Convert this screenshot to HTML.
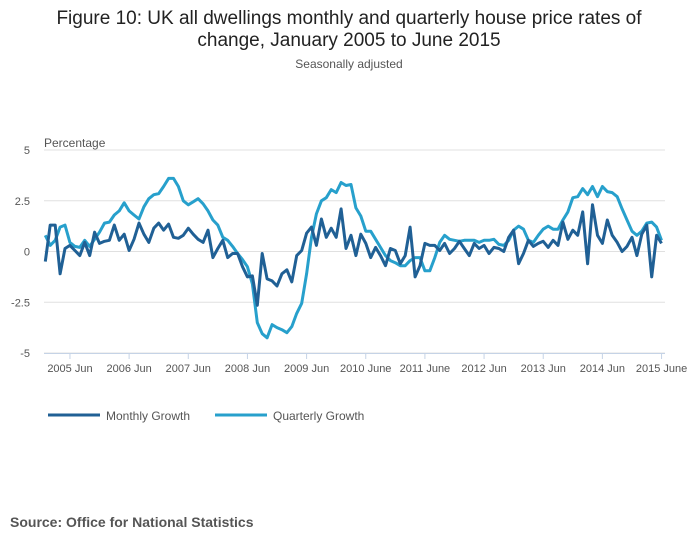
<!DOCTYPE html>
<html><head><meta charset="utf-8"><style>
body{margin:0;background:#fff;font-family:"Liberation Sans",sans-serif;}
#wrap{position:relative;width:700px;height:549px;overflow:hidden;}
</style></head><body>
<div id="wrap">
<svg id="svg" width="700" height="549" xmlns="http://www.w3.org/2000/svg">
<text x="349" y="24" text-anchor="middle" font-size="19" fill="#222">Figure 10: UK all dwellings monthly and quarterly house price rates of</text>
<text x="349" y="46" text-anchor="middle" font-size="19" fill="#222">change, January 2005 to June 2015</text>
<text x="349" y="68" text-anchor="middle" font-size="12" fill="#555">Seasonally adjusted</text>
<text x="44" y="147" font-size="12" fill="#555">Percentage</text>
<g id="grid"></g><g id="xaxis"></g><g id="series"></g>
<line x1="48" y1="415" x2="100" y2="415" stroke="#206095" stroke-width="3"/>
<text x="106" y="420" font-size="12" fill="#555">Monthly Growth</text>
<line x1="215" y1="415" x2="267" y2="415" stroke="#27a0cc" stroke-width="3"/>
<text x="273" y="420" font-size="12" fill="#555">Quarterly Growth</text>
<text x="10" y="527" font-size="14" font-weight="bold" fill="#555">Source: Office for National Statistics</text>
</svg>
</div>
<script>
const yTicks=[5,2.5,0,-2.5,-5];
const xTickLabels=["2005 Jun","2006 Jun","2007 Jun","2008 Jun","2009 Jun","2010 June","2011 June","2012 Jun","2013 Jun","2014 Jun","2015 June"];
const monthly=[-0.5,1.3,1.3,-1.1,0.15,0.3,0.05,-0.2,0.45,-0.2,0.95,0.4,
0.5,0.55,1.3,0.55,0.85,0.05,0.6,1.4,0.85,0.45,1.15,1.4,
1.05,1.35,0.7,0.65,0.8,1.15,0.85,0.6,0.45,1.05,-0.3,0.15,
0.55,-0.3,-0.1,-0.1,-0.75,-1.25,-1.2,-2.65,-0.1,-1.35,-1.45,-1.7,
-1.1,-0.9,-1.5,-0.2,0.05,0.9,1.2,0.3,1.6,0.7,1.15,0.7,
2.1,0.15,0.8,-0.2,0.85,0.4,-0.3,0.2,-0.2,-0.7,0.15,0.05,
-0.6,-0.2,1.2,-1.25,-0.7,0.4,0.3,0.3,0.05,0.4,-0.1,0.15,
0.5,0.15,-0.2,0.4,0.15,0.3,-0.1,0.2,0.15,0.0,0.7,1.05,
-0.6,-0.1,0.55,0.25,0.4,0.5,0.2,0.55,0.3,1.45,0.6,1.05,
0.8,1.95,-0.6,2.3,0.8,0.4,1.55,0.8,0.45,0.0,0.25,0.7,
-0.2,0.85,1.3,-1.25,0.8,0.4];
const quarterly=[0.8,0.3,0.55,1.2,1.3,0.45,0.25,0.2,0.55,0.25,0.6,0.95,
1.4,1.45,1.8,2.0,2.4,2.0,1.8,1.6,2.2,2.6,2.8,2.85,
3.2,3.6,3.6,3.2,2.5,2.3,2.45,2.6,2.35,2.0,1.55,1.3,
0.7,0.55,0.25,-0.1,-0.4,-0.75,-1.6,-3.5,-4.05,-4.25,-3.6,-3.75,
-3.85,-4.0,-3.7,-3.05,-2.55,-1.1,0.7,1.85,2.5,2.65,3.05,2.9,
3.4,3.25,3.3,2.15,1.75,1.0,1.0,0.6,0.2,-0.2,-0.45,-0.55,
-0.7,-0.7,-0.45,-0.3,-0.3,-0.95,-0.95,-0.3,0.45,0.8,0.6,0.55,
0.5,0.55,0.55,0.55,0.45,0.55,0.55,0.6,0.35,0.3,0.55,1.05,
1.25,1.1,0.55,0.45,0.8,1.1,1.25,1.1,1.1,1.55,1.95,2.65,
2.7,3.1,2.8,3.2,2.7,3.2,2.95,2.9,2.7,2.1,1.55,1.0,
0.8,1.0,1.4,1.45,1.2,0.55];
const NS="http://www.w3.org/2000/svg";
const x0=45.3,dx=4.93,yZero=251.5,yScale=20.3;
function xs(i){return x0+dx*i;}
function ys(v){return yZero-v*yScale;}
function mk(tag,attrs,parent){const e=document.createElementNS(NS,tag);for(const k in attrs)e.setAttribute(k,attrs[k]);document.getElementById(parent).appendChild(e);return e;}
yTicks.forEach(function(t){
  const l=mk('line',{x1:44,x2:665,y1:ys(t),y2:ys(t),stroke:'#e0e0e0','stroke-width':1},'grid');
  
  
  const tx=mk('text',{x:30,y:ys(t)+4,'text-anchor':'end','font-size':11,fill:'#555'},'grid');
  tx.textContent=String(t);
  
  
});
const ax=mk('line',{x1:44,x2:665,y1:353.5,y2:353.5,stroke:'#c5d3e6','stroke-width':1},'xaxis');


xTickLabels.forEach(function(lab,k){
  const i=5+12*k;
  const t=mk('line',{x1:xs(i),x2:xs(i),y1:353,y2:359,stroke:'#c5d3e6','stroke-width':1},'xaxis');
  
  
  const tx=mk('text',{x:xs(i),y:372,'text-anchor':'middle','font-size':11,fill:'#555'},'xaxis');
  tx.textContent=lab;
  
  
});
function pts(arr){return arr.map(function(v,i){return xs(i).toFixed(1)+','+ys(v).toFixed(1);}).join(' ');}
const q=mk('polyline',{points:pts(quarterly),fill:'none',stroke:'#27a0cc','stroke-width':3,'stroke-linejoin':'round'},'series');


const m=mk('polyline',{points:pts(monthly),fill:'none',stroke:'#206095','stroke-width':3,'stroke-linejoin':'round'},'series');


</script>
</body></html>
